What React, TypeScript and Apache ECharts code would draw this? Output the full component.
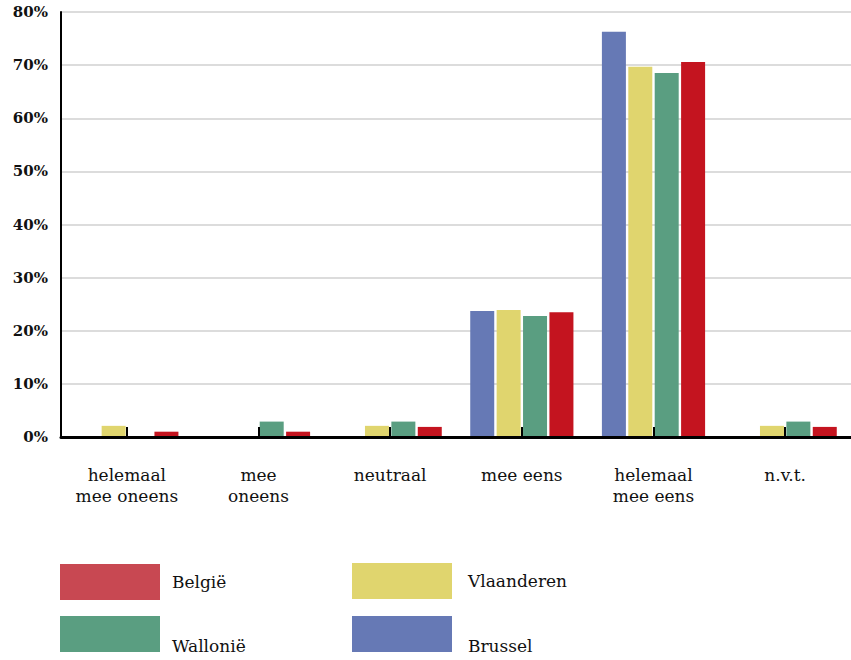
import React, { useEffect, useRef } from "react";
import * as echarts from "echarts";

const categories = ["helemaal\nmee oneens", "mee\noneens", "neutraal", "mee eens", "helemaal\nmee eens", "n.v.t."];
const brussel = [0, 0, 0, 23.7, 76.3, 0];
const vlaanderen = [2.1, 0, 2.1, 23.9, 69.7, 2.1];
const wallonie = [0, 2.9, 2.9, 22.8, 68.5, 2.9];
const belgie = [1.0, 1.0, 1.9, 23.5, 70.6, 1.9];
const yTicks = { min: 0, max: 80, interval: 10 };

const FONT = "DejaVu Serif";

export default function App() {
  const ref = useRef<HTMLDivElement>(null);
  useEffect(() => {
    if (!ref.current) return;
    const chart = echarts.init(ref.current, undefined, { renderer: "svg" });
    const legendText = { fontFamily: FONT, fontSize: 17, color: "#111" };
    const mkLegend = (name: string, left: number, top: number, padLeft: number, lowered: boolean, extra: any = {}) => ({
      orient: "horizontal",
      left,
      top,
      padding: 0,
      itemWidth: 100,
      itemHeight: 36,
      icon: "rect",
      textStyle: { ...legendText, padding: [0, 0, 0, padLeft], lineHeight: lowered ? 24 : 22 },
      formatter: lowered ? (n: string) => "\n" + n : (n: string) => n,
      data: [{ name, ...extra }],
    });
    chart.setOption({
      animation: false,
      backgroundColor: "#fff",
      grid: { left: 61, right: 0, top: 12, bottom: 223, containLabel: false },
      legend: [
        mkLegend("België", 60, 564, 7, false, { itemStyle: { color: "#c84852" } }),
        mkLegend("Vlaanderen", 352, 563, 11, false),
        mkLegend("Wallonië", 60, 610, 7, true),
        mkLegend("Brussel", 352, 610, 11, true),
      ],
      xAxis: {
        type: "category",
        data: categories,
        axisLine: { show: true, lineStyle: { color: "#000", width: 3 } },
        axisTick: { show: true, inside: true, length: 10, alignWithLabel: true, lineStyle: { color: "#000", width: 2 } },
        axisLabel: { interval: 0, fontFamily: FONT, fontSize: 17, color: "#111", margin: 27, lineHeight: 21 },
        splitLine: { show: false },
        z: 5,
      },
      yAxis: {
        type: "value",
        min: yTicks.min,
        max: yTicks.max,
        interval: yTicks.interval,
        axisLine: { show: true, lineStyle: { color: "#000", width: 2 } },
        axisTick: { show: false },
        axisLabel: {
          formatter: "{value}%",
          fontFamily: FONT,
          fontWeight: "bold",
          fontSize: 15,
          color: "#111",
          margin: 13,
          padding: [10, 0, 0, 0],
        },
        splitLine: { show: true, lineStyle: { color: "#dcdcdc", width: 2 } },
      },
      series: [
        { name: "Brussel", type: "bar", data: brussel, barWidth: 24, barGap: "10%", itemStyle: { color: "#6679b5" } },
        { name: "Vlaanderen", type: "bar", data: vlaanderen, barWidth: 24, barGap: "10%", itemStyle: { color: "#e0d56e" } },
        { name: "Wallonië", type: "bar", data: wallonie, barWidth: 24, barGap: "10%", itemStyle: { color: "#5a9e81" } },
        { name: "België", type: "bar", data: belgie, barWidth: 24, barGap: "10%", itemStyle: { color: "#c4141f" } },
      ],
    });
    return () => chart.dispose();
  }, []);
  return (
    <div
      ref={ref}
      style={{ position: "fixed", left: 0, top: 0, width: 851, height: 660, background: "#fff" }}
    />
  );
}
